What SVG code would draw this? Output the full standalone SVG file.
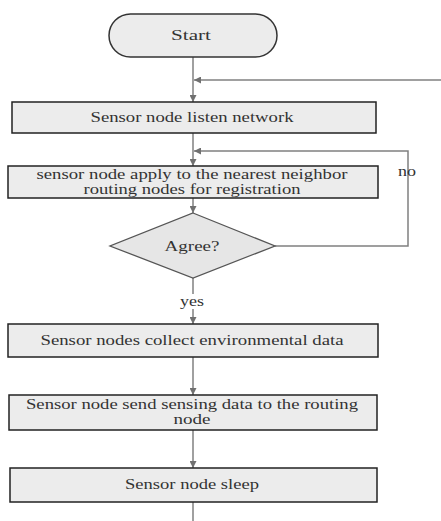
<svg xmlns="http://www.w3.org/2000/svg" width="441" height="521" viewBox="0 0 441 521" font-family="'Liberation Serif', 'DejaVu Serif', serif">
<defs>
<style>
.box{fill:#ececec;stroke:#222;stroke-width:1.5}
.dia{fill:#e6e6e6;stroke:#555;stroke-width:1.3}
.c{fill:none;stroke:#808080;stroke-width:1.5}
.t{font-size:14.5px;fill:#333;text-anchor:middle}
</style>
<marker id="ah" viewBox="0 0 10 10" refX="10" refY="5" markerWidth="7" markerHeight="7" markerUnits="userSpaceOnUse" orient="auto">
<path d="M0,0 L10,5 L0,10 z" fill="#707070"/>
</marker>
</defs>
<rect width="441" height="521" fill="#fff"/>
<g id="connectors">
<line class="c" x1="193" y1="57" x2="193" y2="102" marker-end="url(#ah)"/>
<line class="c" x1="441" y1="80" x2="194" y2="80" marker-end="url(#ah)"/>
<line class="c" x1="193" y1="133" x2="193" y2="166" marker-end="url(#ah)"/>
<polyline class="c" points="275,246 408,246 408,151 194,151" marker-end="url(#ah)"/>
<line class="c" x1="193" y1="198" x2="193" y2="213" marker-end="url(#ah)"/>
<line class="c" x1="193" y1="278" x2="193" y2="294"/>
<line class="c" x1="193" y1="309" x2="193" y2="324" marker-end="url(#ah)"/>
<line class="c" x1="193" y1="357" x2="193" y2="395" marker-end="url(#ah)"/>
<line class="c" x1="193" y1="430" x2="193" y2="468" marker-end="url(#ah)"/>
<line class="c" x1="193" y1="502" x2="193" y2="521"/>
<text class="t" x="407" y="176" textLength="18" lengthAdjust="spacingAndGlyphs">no</text>
<text class="t" x="192" y="306" textLength="24" lengthAdjust="spacingAndGlyphs">yes</text>
</g>
<g id="start">
<rect class="box" x="109" y="14" width="168" height="43" rx="21.5" ry="21.5" style="stroke:#333"/>
<text class="t" x="191" y="40" textLength="40" lengthAdjust="spacingAndGlyphs">Start</text>
</g>
<g id="listen">
<rect class="box" x="12" y="102" width="364" height="31"/>
<text class="t" x="192" y="122" textLength="203" lengthAdjust="spacingAndGlyphs">Sensor node listen network</text>
</g>
<g id="apply">
<rect class="box" x="8" y="166" width="370" height="32"/>
<text class="t" x="192" y="179" textLength="311" lengthAdjust="spacingAndGlyphs">sensor node apply to the nearest neighbor</text>
<text class="t" x="192" y="194" textLength="217" lengthAdjust="spacingAndGlyphs">routing nodes for registration</text>
</g>
<g id="agree">
<polygon class="dia" points="193,213 275,246 193,278 110,246"/>
<text class="t" x="192" y="251" textLength="55" lengthAdjust="spacingAndGlyphs">Agree?</text>
</g>
<g id="collect">
<rect class="box" x="8" y="324" width="370" height="33"/>
<text class="t" x="192" y="345" textLength="303" lengthAdjust="spacingAndGlyphs">Sensor nodes collect environmental data</text>
</g>
<g id="send">
<rect class="box" x="9" y="395" width="368" height="35"/>
<text class="t" x="192" y="409" textLength="332" lengthAdjust="spacingAndGlyphs">Sensor node send sensing data to the routing</text>
<text class="t" x="192" y="424" textLength="37" lengthAdjust="spacingAndGlyphs">node</text>
</g>
<g id="sleep">
<rect class="box" x="10" y="468" width="367" height="34"/>
<text class="t" x="192" y="489" textLength="134" lengthAdjust="spacingAndGlyphs">Sensor node sleep</text>
</g>
</svg>
